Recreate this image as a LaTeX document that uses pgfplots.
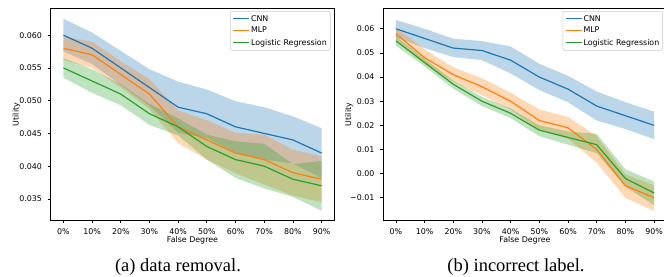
\documentclass[border=0pt]{standalone}
\usepackage{pgfplots}
\pgfplotsset{compat=1.18}
\usepackage{pgfplotstable}
\usepgfplotslibrary{fillbetween}
\usepackage{fontspec}
\setmainfont{DejaVu Sans}
\newfontfamily\capfont{Liberation Serif}
\definecolor{c0}{HTML}{1F77B4}
\definecolor{c1}{HTML}{FF7F0E}
\definecolor{c2}{HTML}{2CA02C}

% left panel: data removal
\pgfplotstableread{
x cnn cnnlo cnnhi mlp mlplo mlphi lr lrlo lrhi
0 0.060 0.0575 0.0625 0.058 0.0562 0.0598 0.055 0.0535 0.0565
1 0.058 0.0556 0.0604 0.057 0.0550 0.0590 0.053 0.0512 0.0548
2 0.055 0.0524 0.0576 0.054 0.0520 0.0560 0.051 0.0493 0.0525
3 0.052 0.0492 0.0548 0.051 0.0487 0.0533 0.048 0.0463 0.0495
4 0.049 0.0451 0.0529 0.046 0.0435 0.0485 0.046 0.0447 0.0473
5 0.048 0.0443 0.0517 0.044 0.0410 0.0470 0.043 0.0410 0.0448
6 0.046 0.0421 0.0499 0.042 0.0389 0.0451 0.041 0.0382 0.0438
7 0.045 0.0410 0.0490 0.041 0.0372 0.0448 0.040 0.0366 0.0434
8 0.044 0.0404 0.0476 0.039 0.0355 0.0425 0.038 0.0353 0.0403
9 0.042 0.0382 0.0458 0.038 0.0345 0.0415 0.037 0.0332 0.0408
}\dataA

% right panel: incorrect label
\pgfplotstableread{
x cnn cnnlo cnnhi mlp mlplo mlphi lr lrlo lrhi
0 0.060 0.0565 0.0637 0.058 0.0555 0.0605 0.055 0.0530 0.0570
1 0.056 0.0520 0.0600 0.048 0.0455 0.0515 0.046 0.0445 0.0475
2 0.052 0.0483 0.0559 0.041 0.0380 0.0440 0.037 0.0352 0.0385
3 0.051 0.0470 0.0549 0.036 0.0325 0.0395 0.030 0.0280 0.0318
4 0.047 0.0415 0.0527 0.030 0.0265 0.0335 0.025 0.0230 0.0270
5 0.040 0.0346 0.0455 0.022 0.0180 0.0265 0.018 0.0155 0.0200
6 0.035 0.0296 0.0405 0.019 0.0145 0.0235 0.015 0.0120 0.0175
7 0.028 0.0220 0.0340 0.010 0.0045 0.0155 0.012 0.0085 0.0165
8 0.024 0.0185 0.0296 -0.005 -0.0100 -0.0003 -0.002 -0.0055 0.0018
9 0.020 0.0143 0.0257 -0.010 -0.0155 -0.0048 -0.008 -0.0130 -0.0032
}\dataB

\pgfplotsset{
  panel/.style={
    scale only axis, width=284pt, height=212pt,
    anchor=south west,
    xmin=-0.45, xmax=9.45,
    xtick={0,...,9},
    xticklabels={0\%,10\%,20\%,30\%,40\%,50\%,60\%,70\%,80\%,90\%},
    scaled ticks=false,
    tick align=outside, tick pos=left,
    major tick length=2.8pt,
    every tick/.style={black, line width=0.7pt},
    axis line style={black, line width=0.8pt},
    tick label style={font=\fontsize{7.9}{9}\selectfont, inner sep=0pt},
    xticklabel style={anchor=base, yshift=-11.4pt},
    yticklabel style={anchor=east, xshift=-5.6pt},
    label style={font=\fontsize{7.9}{9}\selectfont, inner sep=0pt},
    xlabel={False Degree},
    ylabel={Utility},
    xlabel style={at={(axis description cs:0.5,0)}, anchor=base, yshift=-22.4pt},
    ylabel style={at={(axis description cs:0,0.5)}, anchor=base, yshift=32pt},
    legend cell align=left,
    legend style={at={(1,1)}, anchor=north east, xshift=-4pt, yshift=-2.5pt,
      font=\fontsize{7.9}{9}\selectfont, draw=black!20, line width=0.6pt,
      rounded corners=2pt, fill=white, fill opacity=0.8, text opacity=1,
      inner xsep=2pt, inner ysep=2.5pt, row sep=1.8pt,
      nodes={inner sep=1.4pt}},
    legend image code/.code={\draw[##1, line width=1.2pt] (0pt,0pt) -- (16pt,0pt);},
  },
  ln/.style={line width=1.2pt, #1, forget plot},
  band/.style={fill=#1, fill opacity=0.3, draw=none, forget plot},
  bd/.style={draw=none, forget plot},
}

\begin{document}
\begin{tikzpicture}[x=1pt,y=1pt]

\begin{axis}[panel, at={(50.5pt,55.5pt)},
  ymin=0.0317, ymax=0.06407,
  ytick={0.035,0.040,0.045,0.050,0.055,0.060},
  yticklabels={0.035,0.040,0.045,0.050,0.055,0.060}]
\addlegendimage{c0, line width=1.2pt}\addlegendentry{CNN}
\addlegendimage{c1, line width=1.2pt}\addlegendentry{MLP}
\addlegendimage{c2, line width=1.2pt}\addlegendentry{Logistic Regression}
\addplot[ln=c0] table[x=x,y=cnn]{\dataA};
\addplot[bd, name path=a1] table[x=x,y=cnnhi]{\dataA};
\addplot[bd, name path=a2] table[x=x,y=cnnlo]{\dataA};
\addplot[band=c0] fill between[of=a1 and a2];
\addplot[ln=c1] table[x=x,y=mlp]{\dataA};
\addplot[bd, name path=b1] table[x=x,y=mlphi]{\dataA};
\addplot[bd, name path=b2] table[x=x,y=mlplo]{\dataA};
\addplot[band=c1] fill between[of=b1 and b2];
\addplot[ln=c2] table[x=x,y=lr]{\dataA};
\addplot[bd, name path=d1] table[x=x,y=lrhi]{\dataA};
\addplot[bd, name path=d2] table[x=x,y=lrlo]{\dataA};
\addplot[band=c2] fill between[of=d1 and d2];
\end{axis}

\begin{axis}[panel, at={(383pt,55.5pt)},
  ymin=-0.0194, ymax=0.0684,
  ytick={-0.01,0,0.01,0.02,0.03,0.04,0.05,0.06},
  yticklabels={−0.01,0.00,0.01,0.02,0.03,0.04,0.05,0.06}]
\addlegendimage{c0, line width=1.2pt}\addlegendentry{CNN}
\addlegendimage{c1, line width=1.2pt}\addlegendentry{MLP}
\addlegendimage{c2, line width=1.2pt}\addlegendentry{Logistic Regression}
\addplot[ln=c0] table[x=x,y=cnn]{\dataB};
\addplot[bd, name path=a1] table[x=x,y=cnnhi]{\dataB};
\addplot[bd, name path=a2] table[x=x,y=cnnlo]{\dataB};
\addplot[band=c0] fill between[of=a1 and a2];
\addplot[ln=c1] table[x=x,y=mlp]{\dataB};
\addplot[bd, name path=b1] table[x=x,y=mlphi]{\dataB};
\addplot[bd, name path=b2] table[x=x,y=mlplo]{\dataB};
\addplot[band=c1] fill between[of=b1 and b2];
\addplot[ln=c2] table[x=x,y=lr]{\dataB};
\addplot[bd, name path=d1] table[x=x,y=lrhi]{\dataB};
\addplot[bd, name path=d2] table[x=x,y=lrlo]{\dataB};
\addplot[band=c2] fill between[of=d1 and d2];
\end{axis}

\node[font=\capfont\fontsize{18.5}{20}\selectfont, anchor=base] at (178,5) {(a) data removal.};
\node[font=\capfont\fontsize{18.5}{20}\selectfont, anchor=base] at (516,5) {(b) incorrect label.};
\pgfresetboundingbox
\useasboundingbox (0,0) rectangle (664,276);
\end{tikzpicture}
\end{document}
